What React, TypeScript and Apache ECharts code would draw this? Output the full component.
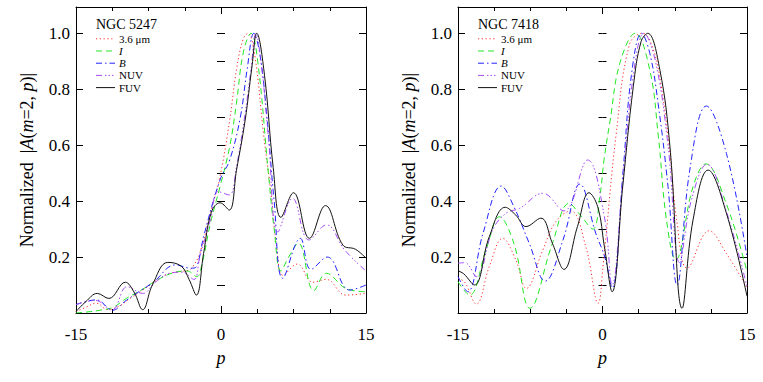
import React, { useEffect, useRef } from "react";
import * as echarts from "echarts";

type Pt = [number, number];

// ---------- NGC 5247 (left panel) ----------
const ngc5247_36: Pt[] = [
  [-15, 0.005], [-14, 0.02], [-12.9, 0.035], [-11.7, 0.012], [-10.5, 0.025], [-9.5, 0.05],
  [-8.1, 0.082], [-6.5, 0.12], [-5.3, 0.142], [-4, 0.149], [-3.2, 0.155], [-2.9, 0.166],
  [-2.2, 0.213], [-1.1, 0.357], [-0.1, 0.488], [0.9, 0.69], [1.6, 0.87], [2.3, 0.98],
  [2.8, 1.0], [3.5, 0.92], [4.4, 0.64], [5.1, 0.45], [5.8, 0.225], [6.4, 0.135],
  [7.9, 0.175], [9.5, 0.11], [10.9, 0.12], [12.9, 0.064], [15, 0.07],
];
const ngc5247_I: Pt[] = [
  [-15, 0.0], [-13.5, 0.005], [-12.5, 0.01], [-11.2, 0.02], [-9.8, 0.052], [-8.1, 0.085],
  [-6.5, 0.12], [-4.7, 0.146], [-3.5, 0.15], [-2.5, 0.13], [-2.0, 0.17], [-1.1, 0.32],
  [-0.1, 0.452], [0.9, 0.595], [1.6, 0.75], [2.3, 0.93], [3.1, 1.0], [3.8, 0.9],
  [4.9, 0.5], [5.5, 0.3], [6.2, 0.15], [7.0, 0.2], [8.0, 0.25], [9.6, 0.08],
  [10.9, 0.142], [12.9, 0.088], [15, 0.076],
];
const ngc5247_B: Pt[] = [
  [-15, 0.03], [-12.9, 0.047], [-11.2, 0.01], [-10, 0.04], [-8.5, 0.076], [-7, 0.11],
  [-4.7, 0.172], [-3.1, 0.16], [-2.5, 0.168], [-1.8, 0.273], [-0.1, 0.476], [0.9, 0.547],
  [2.0, 0.7], [2.7, 0.87], [3.4, 1.0], [4.0, 0.93], [4.7, 0.72], [5.5, 0.4],
  [6.4, 0.124], [8.2, 0.267], [9.3, 0.156], [11.0, 0.2], [13.3, 0.082], [15, 0.1],
];
const ngc5247_NUV: Pt[] = [
  [-15, 0.03], [-13, 0.045], [-11.3, 0.01], [-9.7, 0.094], [-8.1, 0.07], [-6.8, 0.11],
  [-5.3, 0.142], [-4, 0.146], [-2.8, 0.12], [-2.2, 0.2], [-1.1, 0.333], [-0.3, 0.434],
  [0.85, 0.422], [1.6, 0.523], [2.5, 0.714], [3.1, 0.87], [3.6, 1.0], [4.2, 0.88],
  [4.9, 0.63], [5.9, 0.29], [7.4, 0.41], [9.1, 0.261], [10.9, 0.315], [12.8, 0.225],
  [15, 0.15],
];
const ngc5247_FUV: Pt[] = [
  [-15, 0.005], [-14, 0.04], [-12.8, 0.07], [-11.6, 0.052], [-9.9, 0.11], [-9, 0.075],
  [-8.1, 0.012], [-7.1, 0.1], [-5.5, 0.181], [-4.1, 0.167], [-3.3, 0.12], [-2.55, 0.064],
  [-1.8, 0.213], [-1.0, 0.36], [-0.1, 0.394], [0.85, 0.368], [1.6, 0.51], [2.5, 0.69],
  [3.2, 0.88], [3.7, 1.0], [4.5, 0.85], [5.4, 0.52], [6.2, 0.342], [7.5, 0.43],
  [9.15, 0.267], [10.8, 0.384], [12.6, 0.243], [13.9, 0.228], [15, 0.196],
];

// ---------- NGC 7418 (right panel) ----------
const ngc7418_36: Pt[] = [
  [-15, 0.124], [-14.3, 0.11], [-13.1, 0.032], [-11.75, 0.166], [-10.36, 0.267], [-9.0, 0.19],
  [-7.9, 0.088], [-6.2, 0.225], [-4.84, 0.327], [-3.3, 0.365], [-1.73, 0.237], [-0.45, 0.035],
  [0.05, 0.166], [1.42, 0.64], [2.8, 0.96], [4.15, 1.0], [5.2, 0.95], [6.1, 0.81],
  [7.0, 0.571], [7.7, 0.333], [8.8, 0.16], [11.06, 0.294], [12.86, 0.213], [15, 0.09],
];
const ngc7418_I: Pt[] = [
  [-15, 0.112], [-13.8, 0.064], [-12.1, 0.225], [-10.7, 0.344], [-9.2, 0.249], [-7.53, 0.017],
  [-5.2, 0.249], [-3.46, 0.392], [-2.3, 0.35], [-1.0, 0.3], [-0.28, 0.416], [0.17, 0.55],
  [0.8, 0.69], [1.8, 0.893], [3.4, 1.0], [4.9, 0.87], [5.8, 0.63], [6.64, 0.333],
  [7.6, 0.19], [9.4, 0.452], [10.72, 0.533], [12.86, 0.39], [15, 0.148],
];
const ngc7418_B: Pt[] = [
  [-15, 0.13], [-14, 0.076], [-12.4, 0.285], [-10.5, 0.454], [-9.2, 0.38], [-7.6, 0.249],
  [-5.95, 0.114], [-4.1, 0.261], [-2.35, 0.461], [-0.7, 0.285], [0.24, 0.2], [1.0, 0.09],
  [2.14, 0.51], [3.0, 0.85], [4.05, 1.0], [4.9, 0.93], [5.77, 0.75], [6.8, 0.452],
  [7.74, 0.1], [9.06, 0.511], [10.78, 0.74], [12.86, 0.571], [15, 0.2],
];
const ngc7418_NUV: Pt[] = [
  [-15, 0.178], [-14.3, 0.18], [-13.1, 0.13], [-11.4, 0.297], [-10.0, 0.357], [-8.6, 0.374],
  [-6.2, 0.428], [-4.0, 0.365], [-1.55, 0.547], [0.17, 0.35], [1.0, 0.1], [2.1, 0.47],
  [3.2, 0.85], [4.3, 1.0], [5.5, 0.9], [6.8, 0.6], [8.0, 0.18], [9.2, 0.4],
  [10.85, 0.532], [12.8, 0.37], [15, 0.094],
];
const ngc7418_FUV: Pt[] = [
  [-15, 0.151], [-14.4, 0.14], [-13.3, 0.1], [-11.75, 0.273], [-10.1, 0.378], [-9.0, 0.35],
  [-7.95, 0.309], [-6.4, 0.339], [-5.2, 0.249], [-4.0, 0.156], [-2.6, 0.309], [-1.4, 0.43],
  [-0.5, 0.38], [0.2, 0.237], [1.0, 0.076], [2.1, 0.452], [3.2, 0.81], [4.0, 0.97],
  [4.7, 1.0], [5.95, 0.87], [7.0, 0.595], [8.26, 0.017], [9.4, 0.333], [10.96, 0.511],
  [12.86, 0.357], [15, 0.06],
];

const panelTitles = ["NGC 5247", "NGC 7418"];
const bandNames = ["3.6 \u03bcm", "I", "B", "NUV", "FUV"];
const bandLabels = ["3.6 \u03bcm", "{i|I}", "{i|B}", "NUV", "FUV"];
const panelData: Pt[][][] = [
  [ngc5247_36, ngc5247_I, ngc5247_B, ngc5247_NUV, ngc5247_FUV],
  [ngc7418_36, ngc7418_I, ngc7418_B, ngc7418_NUV, ngc7418_FUV],
];
const xTickValues = [-15, 0, 15];
const yRange = [0, 1.094];

const bandColors = ["#ff2a2a", "#22e622", "#2222ff", "#a44cf5", "#111111"];
const bandDash: (number[] | "solid")[] = [
  [1.2, 2.6],
  [6, 4],
  [6, 3, 1.5, 3],
  [6, 3, 1.5, 2, 1.5, 2, 1.5, 3],
  "solid",
];

const FONT = "Liberation Serif, Times New Roman, serif";

export default function App() {
  const ref = useRef<HTMLDivElement>(null);
  useEffect(() => {
    if (!ref.current) return;
    const chart = echarts.init(ref.current, undefined, { renderer: "svg" });
    const grids = [
      { left: 76, top: 7, width: 290, height: 306 },
      { left: 458, top: 7, width: 289, height: 306 },
    ];
    const black = { color: "#000", width: 1 };
    const xAxis: any[] = [];
    const yAxis: any[] = [];
    const series: any[] = [];
    const graphic: any[] = [];
    grids.forEach((g, i) => {
      xAxis.push({
        type: "value",
        gridIndex: i,
        min: xTickValues[0],
        max: xTickValues[2],
        interval: xTickValues[1] - xTickValues[0],
        position: "bottom",
        axisLine: { show: true, onZero: false, lineStyle: black },
        axisTick: { show: true, inside: true, length: 7, lineStyle: black },
        minorTick: { show: true, splitNumber: 4, length: 4, lineStyle: black },
        splitLine: { show: false },
        minorSplitLine: { show: false },
        axisLabel: {
          show: true,
          margin: 13,
          color: "#000",
          fontFamily: FONT,
          fontSize: 17,
          formatter: (v: number) => String(v),
        },
        name: "p",
        nameLocation: "middle",
        nameGap: 36,
        nameTextStyle: { fontFamily: FONT, fontSize: 18, fontStyle: "italic", color: "#000" },
      });
      xAxis.push({
        type: "value",
        gridIndex: i,
        min: xTickValues[0],
        max: xTickValues[2],
        interval: xTickValues[1] - xTickValues[0],
        position: "top",
        axisLine: { show: true, onZero: false, lineStyle: black },
        axisTick: { show: true, inside: true, length: 7, lineStyle: black },
        minorTick: { show: true, splitNumber: 4, length: 4, lineStyle: black },
        splitLine: { show: false },
        axisLabel: { show: false },
      });
      const yBase = { type: "value", gridIndex: i, min: yRange[0], max: yRange[1], splitLine: { show: false } };
      yAxis.push({
        ...yBase,
        interval: 0.2,
        position: "left",
        axisLine: { show: true, onZero: false, lineStyle: black },
        axisTick: { show: true, inside: true, length: 7, lineStyle: black },
        axisLabel: {
          show: true,
          margin: 6,
          color: "#000",
          fontFamily: FONT,
          fontSize: 17,
          formatter: (v: number) => (v < 0.1 || v > 1.05 ? "" : v.toFixed(1)),
        },
        name: "Normalized  |{i|A}({i|m}=2, {i|p})|",
        nameLocation: "middle",
        nameGap: 40,
        nameTextStyle: {
          fontFamily: FONT,
          fontSize: 18,
          color: "#000",
          rich: { i: { fontFamily: FONT, fontSize: 18, fontStyle: "italic", color: "#000" } },
        },
      });
      yAxis.push({
        ...yBase,
        interval: 0.1,
        position: "left",
        axisLine: { show: false },
        axisTick: { show: true, inside: true, length: 4, lineStyle: black },
        axisLabel: { show: false },
      });
      yAxis.push({
        ...yBase,
        interval: 0.2,
        position: "right",
        axisLine: { show: true, onZero: false, lineStyle: black },
        axisTick: { show: true, inside: true, length: 7, lineStyle: black },
        axisLabel: { show: false },
      });
      yAxis.push({
        ...yBase,
        interval: 0.1,
        position: "right",
        axisLine: { show: false },
        axisTick: { show: true, inside: true, length: 4, lineStyle: black },
        axisLabel: { show: false },
      });

      panelData[i].forEach((data, k) => {
        series.push({
          type: "line",
          name: panelTitles[i] + " " + bandNames[k],
          xAxisIndex: 2 * i,
          yAxisIndex: 4 * i,
          data,
          smooth: 0.4,
          showSymbol: false,
          symbol: "none",
          clip: true,
          lineStyle: { color: bandColors[k], width: 1, type: bandDash[k] },
          z: 2 + k,
        });
      });

      const lx = g.left + 20;
      graphic.push({
        type: "text",
        x: lx,
        y: 24,
        style: {
          text: panelTitles[i],
          fontFamily: FONT,
          fontSize: 14,
          fill: "#000",
          align: "left",
          verticalAlign: "middle",
        },
      });
      bandLabels.forEach((lab, k) => {
        const yy = 38.8 + k * 12.2;
        graphic.push({
          type: "line",
          shape: { x1: lx, y1: yy, x2: lx + 19, y2: yy },
          style: {
            stroke: bandColors[k],
            lineWidth: 1,
            lineDash: bandDash[k] === "solid" ? null : bandDash[k],
          },
        });
        graphic.push({
          type: "text",
          x: lx + 23,
          y: yy,
          style: {
            text: lab,
            fontFamily: FONT,
            fontSize: 11,
            fill: "#000",
            align: "left",
            verticalAlign: "middle",
            rich: {
              i: { fontFamily: FONT, fontSize: 11, fontStyle: "italic", fill: "#000" },
            },
          },
        });
      });
    });

    chart.setOption({
      animation: false,
      backgroundColor: "#fff",
      grid: grids,
      xAxis,
      yAxis,
      series,
      graphic,
    });
    return () => chart.dispose();
  }, []);
  return (
    <div
      ref={ref}
      style={{ position: "absolute", left: 0, top: 0, width: 763, height: 382, background: "#fff" }}
    />
  );
}
